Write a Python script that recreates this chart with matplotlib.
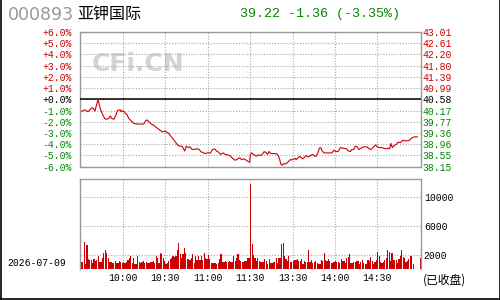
import matplotlib
matplotlib.use("Agg")
import matplotlib.pyplot as plt
from matplotlib.lines import Line2D

# --- data ---
code = "000893"
name = "亚钾国际"
quote = "39.22 -1.36 (-3.35%)"
date = "2026-07-09"
status = "(已收盘)"

# intraday % change vs. previous close 40.58 (minute index, pct)
price_t = [0, 3, 5, 6, 8, 9, 10, 12, 12.5, 13, 14, 15.5, 17, 18, 20, 21, 22, 23.5, 25, 26,
           28, 28.6, 30, 31.5, 33, 34, 36, 37.5, 39.5, 44.6, 46, 47, 48, 50, 51.6, 53.5, 56, 58, 58.7, 60,
           62.4, 63.8, 65.7, 67, 68.5, 69.9, 71.8, 72.8, 73.7, 74.7, 76, 77.5, 78.9, 82.6, 84, 85, 86.9, 88.3, 89.7, 92,
           93.4, 94.8, 96.2, 97.7, 99, 100.9, 102.3, 103.7, 105.6, 107.5, 109.4, 111.3, 112.7, 114, 115.5, 117.4, 118.8, 119.7,
           120, 121, 123, 124.4, 125.8, 128, 130, 131.5, 132.4, 133.3, 134.7, 138.5, 139.9, 140.8, 141.8, 142.7, 143.6, 145.5,
           146.9, 148.3, 150, 151.6, 152.6, 154, 155, 156.3, 157.3, 158.7, 159.6, 161, 162.9, 164.3, 165.7, 166.7, 168, 169,
           170, 171, 172.3, 177.9, 179.3, 180.7, 182.2, 184, 185.9, 188.3, 189.7, 191, 192, 193.4, 194.4, 195.7, 197, 198.6,
           200, 202.8, 204.2, 205.6, 207, 209, 209.9, 211.8, 213.2, 214.6, 216, 217.4, 218.8, 219.7, 220.7, 221.6, 223.5,
           224.9, 226.3, 228.2, 229.1, 232.4, 233.8, 235.2, 236.6, 238.5]
price_pct = [-1.10, -0.93, -1.10, -1.00, -0.75, -0.80, -1.05, -0.15, -0.10, -0.40, -0.87, -1.35, -1.70, -1.77, -1.70, -1.47, -1.70, -1.77, -1.40, -1.00,
             -0.93, -1.10, -1.00, -1.23, -1.40, -1.70, -1.95, -2.13, -2.20, -2.20, -1.90, -1.83, -1.95, -2.20, -2.30, -2.50, -2.73, -2.90, -2.85, -2.85,
             -3.03, -3.27, -3.57, -3.80, -4.05, -4.17, -4.17, -4.41, -4.60, -4.17, -4.30, -4.23, -4.47, -4.41, -4.47, -4.65, -4.77, -4.83, -4.77, -4.77,
             -4.47, -4.41, -4.60, -4.71, -4.90, -4.77, -4.90, -4.95, -5.00, -5.25, -5.43, -5.30, -5.20, -5.38, -5.30, -5.43, -5.56, -5.60,
             -5.00, -4.77, -4.95, -5.07, -4.95, -5.00, -4.65, -4.77, -4.90, -4.65, -4.83, -4.83, -5.00, -5.30, -5.80, -5.86, -5.74, -5.74,
             -5.56, -5.38, -5.38, -5.25, -5.38, -5.20, -5.07, -5.20, -5.30, -5.13, -5.00, -5.13, -5.00, -4.90, -5.07, -5.07, -4.77, -4.35,
             -4.30, -4.60, -4.77, -4.77, -4.53, -4.65, -4.65, -4.30, -4.35, -4.41, -4.60, -4.65, -4.47, -4.47, -4.17, -4.23, -4.47, -4.35,
             -4.23, -4.23, -4.41, -4.47, -4.30, -4.05, -4.23, -4.30, -4.30, -4.35, -4.41, -4.35, -4.41, -3.93, -4.30, -4.17, -4.00,
             -3.80, -3.87, -3.63, -3.69, -3.69, -3.51, -3.39, -3.33, -3.35]

# per-minute volume (lots), 9:30 .. 15:00
volume = [1000, 1000, 3800, 700, 3400, 1400, 1300, 1300, 900, 1400,
          1200, 1300, 1800, 1000, 1000, 1600, 2200, 2700, 2200, 1600,
          1000, 1000, 900, 900, 1100, 900, 900, 1100, 1000, 900,
          1000, 900, 1000, 1300, 1500, 1800, 900, 1600, 700, 700,
          1900, 1000, 900, 1000, 1100, 900, 1000, 900, 900, 1000,
          1000, 1100, 900, 1900, 1600, 900, 2200, 2100, 1600, 1200,
          800, 900, 1100, 1400, 1600, 1800, 1700, 1800, 2700, 3600,
          2100, 1600, 2100, 3000, 2200, 1400, 1400, 1300, 1600, 2100,
          900, 1900, 1300, 1900, 1300, 1900, 1300, 2200, 1600, 1400,
          2000, 1400, 900, 900, 900, 900, 700, 900, 1400, 2100,
          1000, 1000, 1100, 1000, 1000, 1100, 1000, 1000, 1900, 1200,
          1500, 2100, 1300, 1200, 1000, 1000, 1200, 1200, 1600, 1500,
          11800, 3500, 2000, 1600, 1200, 1600, 1200, 1000, 1000, 1000,
          1400, 1100, 800, 1400, 900, 900, 1000, 1000, 1600, 900,
          1600, 1600, 3500, 3600, 1800, 1400, 1200, 1800, 1000, 1000,
          1200, 1300, 1300, 1400, 1100, 1200, 1400, 800, 1200, 1000,
          1000, 2700, 1000, 1300, 900, 1000, 1100, 900, 800, 800,
          1300, 1100, 2300, 1300, 1200, 1400, 1100, 900, 900, 1000,
          1100, 1000, 1000, 900, 1400, 1200, 1100, 900, 1600, 1700,
          2100, 900, 900, 1000, 1000, 1100, 1100, 800, 1000, 1300,
          900, 800, 800, 1300, 1100, 1700, 1100, 800, 1000, 1300,
          2400, 1900, 1000, 900, 1000, 1300, 1500, 2600, 2400, 1100,
          2200, 1300, 1300, 1300, 900, 1400, 1800, 2700, 1700, 1600,
          1000, 1200, 1400, 1900, 1900, 700, 0, 0, 0, 0,
          1600]

pct_ticks = [6, 5, 4, 3, 2, 1, 0, -1, -2, -3, -4, -5, -6]
pct_labels = ["+6.0%", "+5.0%", "+4.0%", "+3.0%", "+2.0%", "+1.0%", "+0.0%",
              "-1.0%", "-2.0%", "-3.0%", "-4.0%", "-5.0%", "-6.0%"]
price_labels = ["43.01", "42.61", "42.20", "41.80", "41.39", "40.99", "40.58",
                "40.17", "39.77", "39.36", "38.96", "38.55", "38.15"]
time_ticks = [30, 60, 90, 120, 150, 180, 210]
time_labels = ["10:00", "10:30", "11:00", "11:30", "13:30", "14:00", "14:30"]
vol_ticks = [2000, 6000, 10000]
vol_labels = ["2000", "6000", "10000"]

RED = "#cc0000"
GREEN = "#008800"
GRID = "#a8a8a8"
BORDER = "#999999"
MONO = "Liberation Mono"
CJK = ["Noto Sans CJK SC", "DejaVu Sans"]


def tick_color(v):
    if v > 0:
        return RED
    if v < 0:
        return GREEN
    return "black"


fig = plt.figure(figsize=(5, 3), dpi=100)

# --- price panel ---
ax = fig.add_axes([0.16, 0.4443, 0.682, 0.449])
ax.set_xlim(-0.5, 241)
ax.set_ylim(-6, 6)
ax.plot(price_t, price_pct, color=RED, lw=0.8)
ax.axhline(0, color="black", lw=1.1, zorder=3)
ax.set_xticks(time_ticks)
ax.set_yticks(pct_ticks)
ax.grid(True, color=GRID, lw=0.8, linestyle=(0, (1, 1.5)))
ax.tick_params(length=0, labelbottom=False, pad=5.8)
ax.set_yticklabels(pct_labels, family=MONO, fontsize=7)
for lab, v in zip(ax.get_yticklabels(), pct_ticks):
    lab.set_color(tick_color(v))
for s in ax.spines.values():
    s.set_color(BORDER)
    s.set_linewidth(1.0)

ax2 = ax.twinx()
ax2.set_ylim(-6, 6)
ax2.set_yticks(pct_ticks)
ax2.set_yticklabels(price_labels, family=MONO, fontsize=7)
ax2.tick_params(length=0, pad=0.8)
for lab, v in zip(ax2.get_yticklabels(), pct_ticks):
    lab.set_color(tick_color(v))
for s in ax2.spines.values():
    s.set_visible(False)

ax.text(0.17, 0.76, "CFi.CN", transform=ax.transAxes, ha="center", va="center",
        fontsize=18, fontweight="bold", color="#d4d4d4", zorder=0)

# --- volume panel ---
axv = fig.add_axes([0.16, 0.1023, 0.682, 0.302])
axv.set_xlim(-0.5, 241)
axv.set_ylim(0, 12512)
axv.bar(range(len(volume)), volume, width=0.85, align="edge", color=RED,
        linewidth=0, antialiased=False, zorder=2)
axv.set_xticks(time_ticks)
axv.set_xticklabels(time_labels, family=MONO, fontsize=7)
axv.grid(True, color=GRID, lw=0.8, linestyle=(0, (1, 1.5)), zorder=0)
axv.yaxis.tick_right()
axv.set_yticks(vol_ticks)
axv.set_yticklabels(vol_labels, family=MONO, fontsize=7)
axv.tick_params(length=0, pad=2)
axv.tick_params(axis="x", pad=3)
axv.spines["bottom"].set_visible(False)
for k in ["top", "left", "right"]:
    axv.spines[k].set_color(BORDER)
    axv.spines[k].set_linewidth(1.0)

# --- header and footer texts ---
fig.text(8 / 500, 1 - 15.5 / 300, code, fontsize=12.5, color="#999999", va="center", ha="left")
fig.text(77 / 500, 1 - 14.5 / 300, name, fontsize=11.5, color="black", va="center", ha="left", family=CJK)
fig.text(240 / 500, 1 - 14 / 300, quote, fontsize=9.6, color=GREEN, va="center", ha="left", family=MONO)
fig.text(7 / 500, 1 - 262.5 / 300, date, fontsize=7, color="black", va="center", ha="left", family=MONO)
fig.text(423 / 500, 1 - 280 / 300, status, fontsize=8.5, color="black", va="center", ha="left", family=CJK)

# outer frame (left, right, bottom)
frame = dict(color="black", lw=1.2, transform=fig.transFigure)
fig.add_artist(Line2D([0.001, 0.001], [0, 1], **frame))
fig.add_artist(Line2D([0.999, 0.999], [0, 1], **frame))
fig.add_artist(Line2D([0, 1], [0.002, 0.002], **frame))

fig.savefig("out.png", dpi=100)
